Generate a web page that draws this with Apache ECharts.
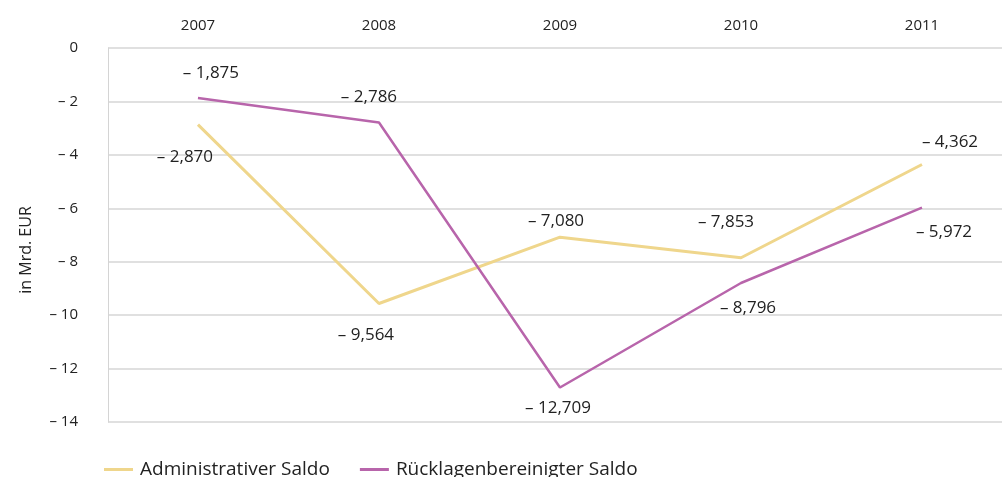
<!DOCTYPE html>
<html>
<head>
<meta charset="utf-8">
<script src="https://cdn.jsdelivr.net/npm/echarts@6/dist/echarts.min.js"></script>
<style>
	html, body { margin: 0; padding: 0; background: #fff; }
	#chart { width: 1002px; height: 477px; }
</style>
</head>
<body>
<div id="chart"></div>
<script>
const years = ['2007', '2008', '2009', '2010', '2011']
const adminSaldo = [-2.870, -9.564, -7.080, -7.853, -4.362]
const ruecklagenSaldo = [-1.875, -2.786, -12.709, -8.796, -5.972]
const yTicks = [0, -2, -4, -6, -8, -10, -12, -14]

// label offsets (x, y) relative to each point
const adminOffsets = [[-13, 32], [-13, 32], [-4, -16], [-15, -36], [28, -22]]
const ruecklagenOffsets = [[13, -25], [-10, -25], [-2, 21], [7, 25], [22, 25]]

const fmt = (v) => (v < 0 ? '– ' : '') + Math.abs(v).toFixed(3).replace('.', ',')
const fontFamily = 'Open Sans, DejaVu Sans, sans-serif'
const yearNums = years.map(Number)

const myChart = echarts.init(document.getElementById('chart'))

const makeData = (vals, offs) =>
	vals.map((v, i) => ({
		value: [yearNums[i], v],
		label: { offset: offs[i] },
	}))

const lineLabel = {
	show: true,
	position: 'inside',
	fontSize: 17,
	color: '#222',
	fontFamily,
	formatter: (p) => fmt(p.value[1]),
}

const options = {
	animation: false,
	backgroundColor: '#fff',
	grid: {
		left: 108,
		right: 0,
		top: 48,
		bottom: 55,
	},
	legend: {
		left: 99,
		top: 455,
		itemWidth: 29,
		itemHeight: 3,
		itemGap: 30,
		icon: 'rect',
		textStyle: {
			fontSize: 19,
			color: '#222',
			fontFamily,
			padding: [0, 0, 0, 2],
		},
		data: ['Administrativer Saldo', 'Rücklagenbereinigter Saldo'],
	},
	xAxis: {
		type: 'value',
		position: 'top',
		min: 2006.503,
		max: 2011.442,
		axisLine: { show: false },
		axisTick: { show: false },
		splitLine: { show: false },
		axisLabel: {
			customValues: yearNums,
			margin: 15,
			fontSize: 15,
			color: '#222',
			fontFamily,
			formatter: (v) => String(v),
		},
	},
	yAxis: {
		type: 'value',
		min: -14,
		max: 0,
		interval: 2,
		name: 'in Mrd. EUR',
		nameLocation: 'middle',
		nameRotate: 90,
		nameGap: 74,
		nameTextStyle: {
			fontSize: 16,
			color: '#222',
			fontFamily,
			padding: [0, 0, 0, -30],
		},
		axisLine: { show: true, lineStyle: { color: '#d4d4d4', width: 1 } },
		axisTick: { show: false },
		axisLabel: {
			margin: 30,
			fontSize: 15,
			color: '#222',
			fontFamily,
			formatter: (v) => (yTicks.includes(v) ? (v < 0 ? '– ' + Math.abs(v) : String(v)) : ''),
		},
		splitLine: {
			show: true,
			lineStyle: { color: '#d6d6d6', width: 1.5 },
		},
	},
	series: [
		{
			name: 'Administrativer Saldo',
			type: 'line',
			data: makeData(adminSaldo, adminOffsets),
			symbol: 'circle',
			symbolSize: 0,
			showSymbol: true,
			showAllSymbol: true,
			color: '#efd68c',
			lineStyle: { width: 3, color: '#efd68c' },
			label: lineLabel,
			z: 2,
		},
		{
			name: 'Rücklagenbereinigter Saldo',
			type: 'line',
			data: makeData(ruecklagenSaldo, ruecklagenOffsets),
			symbol: 'circle',
			symbolSize: 0,
			showSymbol: true,
			showAllSymbol: true,
			color: '#b865ab',
			lineStyle: { width: 2.5, color: '#b865ab' },
			label: lineLabel,
			z: 3,
		},
	],
}
myChart.setOption(options)
</script>
</body>
</html>
